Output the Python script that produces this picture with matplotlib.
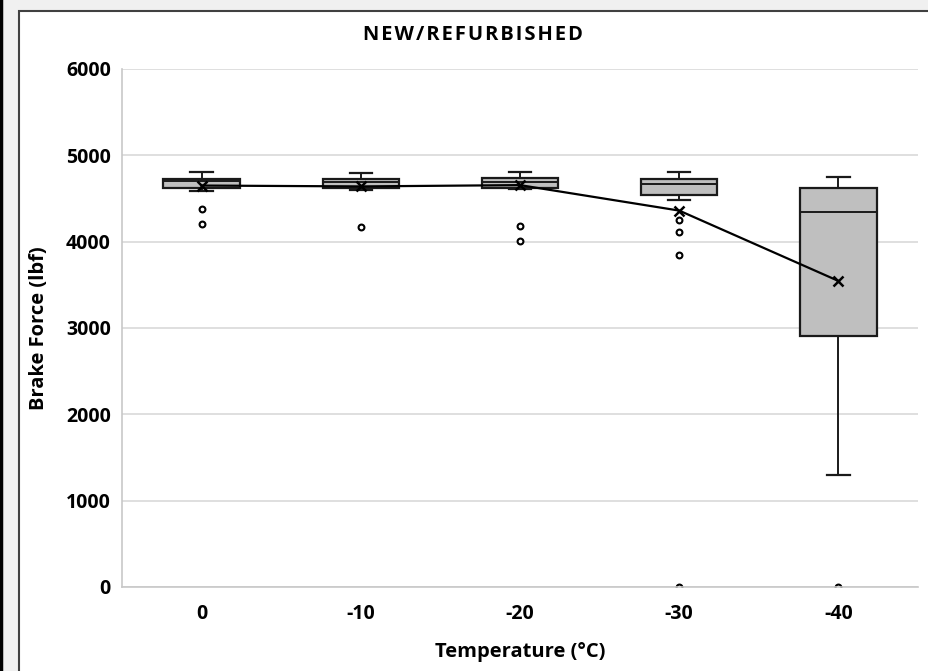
import matplotlib
matplotlib.use("Agg")
import matplotlib.pyplot as plt
from matplotlib.patches import Rectangle
from matplotlib.lines import Line2D

categories = ["0", "-10", "-20", "-30", "-40"]
whisker_low = [4590, 4600, 4606, 4479, 1297]
q1 = [4618, 4625, 4625, 4541, 2907]
median = [4700, 4688, 4695, 4665, 4344]
q3 = [4726, 4730, 4741, 4726, 4622]
whisker_high = [4803, 4799, 4806, 4807, 4749]
means = [4650, 4640, 4655, 4360, 3545]
outliers = [[4375, 4201], [4174], [4182, 4004], [4247, 4112, 3849, 0], [0]]

plt.rcParams['font.family'] = ['Open Sans', 'DejaVu Sans']

W, H = 929, 671
fig = plt.figure(figsize=(W / 100, H / 100), dpi=100)
fig.patch.set_facecolor('#f0f0f0')
fig.add_artist(Rectangle((19 / W, -0.01), 1.0, 1 - 11 / H + 0.01, transform=fig.transFigure,
                         facecolor='white', edgecolor='#404040', lw=1.5, zorder=0))
fig.add_artist(Line2D([1 / W, 1 / W], [0, 1], transform=fig.transFigure, color='black', lw=2.5))

ax = fig.add_axes([122 / W, 1 - 587 / H, (918 - 122) / W, (587 - 69) / H])
ax.set_facecolor('white')

stats = []
for i, c in enumerate(categories):
    stats.append(dict(label=c, whislo=whisker_low[i], q1=q1[i], med=median[i], q3=q3[i],
                      whishi=whisker_high[i], mean=means[i], fliers=outliers[i]))

pos = list(range(len(categories)))
ax.bxp(stats, positions=pos, widths=0.48, patch_artist=True, showmeans=False,
       boxprops=dict(facecolor='#bfbfbf', edgecolor='#1a1a1a', linewidth=1.6),
       medianprops=dict(color='#1a1a1a', linewidth=1.4),
       whiskerprops=dict(color='#1a1a1a', linewidth=1.4),
       capprops=dict(color='#1a1a1a', linewidth=1.6),
       capwidths=0.14,
       flierprops=dict(marker='o', markersize=4.2, markerfacecolor='white',
                       markeredgecolor='black', markeredgewidth=1.5))
ax.plot(pos, means, color='black', lw=1.6, marker='x', markersize=7, markeredgewidth=1.8, zorder=5)

ax.set_xlim(-0.5, 4.5)
ax.set_ylim(0, 6000)
ax.set_yticks(range(0, 6001, 1000))
ax.set_xticks(pos)
ax.set_xticklabels(categories)
ax.grid(axis='y', color='#d9d9d9', lw=1.2)
ax.set_axisbelow(True)
for s in ['top', 'right']:
    ax.spines[s].set_visible(False)
for s in ['left', 'bottom']:
    ax.spines[s].set_color('#c8c8c8')
    ax.spines[s].set_linewidth(1.2)
ax.tick_params(length=0, labelsize=14, pad=8)
for lab in ax.get_xticklabels() + ax.get_yticklabels():
    lab.set_fontweight('bold')
ax.tick_params(axis='x', pad=12)

ax.set_xlabel('Temperature (°C)', fontsize=14.5, fontweight='bold', labelpad=13)
ax.set_ylabel('Brake Force (lbf)', fontsize=14.5, fontweight='bold', labelpad=12)
title = '\u200a'.join('NEW/REFURBISHED')
fig.text(473 / W, 1 - 35 / H, title, ha='center', va='center',
         fontsize=14.5, fontweight='bold')

fig.savefig('out.png', dpi=100, facecolor=fig.get_facecolor())
